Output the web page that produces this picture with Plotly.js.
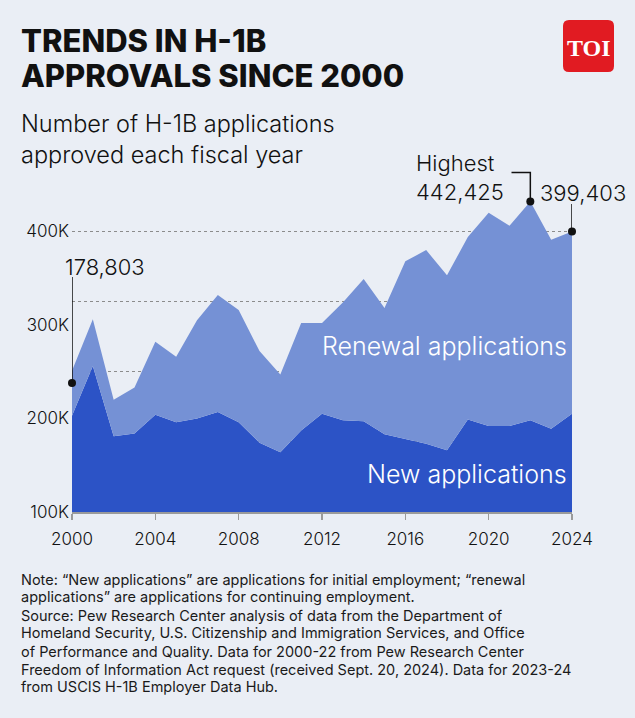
<!DOCTYPE html>
<html>
<head>
<meta charset="utf-8">
<script src="https://cdn.plot.ly/plotly-3.0.1.min.js"></script>
<style>
  html, body { margin: 0; padding: 0; background: #eaeef5; }
  #chart { width: 635px; height: 718px; }
</style>
</head>
<body>
<div id="chart"></div>
<script>
// ---- Data (thousands of approved H-1B applications) ----
const years = [2000, 2001, 2002, 2003, 2004, 2005, 2006, 2007, 2008, 2009, 2010, 2011, 2012,
               2013, 2014, 2015, 2016, 2017, 2018, 2019, 2020, 2021, 2022, 2023, 2024];
const newApps = [203, 256, 181, 184, 204, 196, 200, 207, 196, 174, 164, 187, 205,
                 198, 197, 183, 178, 173, 166, 199, 192, 192, 198, 189, 205];
const renewalApps = [48, 50, 39, 49, 78, 70, 105, 125, 120, 98, 83, 115, 97,
                     126, 152, 135, 190, 207, 187, 195, 228, 214, 234, 202, 195];

const xTickVals = [2000, 2004, 2008, 2012, 2016, 2020, 2024];
const xTickLabels = ["2000", "2004", "2008", "2012", "2016", "2020", "2024"];
const yTickVals = [100, 200, 300, 400];
const yTickLabels = ["100K", "200K", "300K", "400K"];
const gridVals = [175, 250, 325, 400];

const calloutYears = [2000, 2022, 2024];
const calloutDotY = [238, 432, 400];
const calloutLabels = ["178,803", "Highest<br>442,425", "399,403"];

const seriesNames = ["New applications", "Renewal applications"];

const titleLines = ["TRENDS IN H-1B", "APPROVALS SINCE 2000"];
const subtitleText = "Number of H-1B applications<br>approved each fiscal year";
const noteLines = [
  "Note: \u201cNew applications\u201d are applications for initial employment; \u201crenewal",
  "applications\u201d are applications for continuing employment.",
  "Source: Pew Research Center analysis of data from the Department of",
  "Homeland Security, U.S. Citizenship and Immigration Services, and Office",
  "of Performance and Quality. Data for 2000-22 from Pew Research Center",
  "Freedom of Information Act request (received Sept. 20, 2024). Data for 2023-24",
  "from USCIS H-1B Employer Data Hub."
];

// ---- Layout geometry ----
const W = 635, Hh = 718;
const M = { l: 72, r: 63, t: 150, b: 206 };
const PW = W - M.l - M.r, PH = Hh - M.t - M.b;
const yRange = [100, 487];
const px = x => (x - M.l) / PW;
const py = y => (Hh - M.b - y) / PH;
const pixToVal = y => yRange[0] + (Hh - M.b - y) / PH * (yRange[1] - yRange[0]);
const pixToYear = x => 2000 + (x - M.l) / PW * 24;

const BG = "#eaeef5";
const DARK = "#2c53c6";
const LIGHT = "#7591d5";
const FONT = "Inter, 'Open Sans', sans-serif";

const traces = [
  {
    x: years, y: newApps, name: seriesNames[0], type: "scatter", mode: "lines",
    stackgroup: "one", line: { width: 0, color: DARK }, fillcolor: DARK, hoverinfo: "skip"
  },
  {
    x: years, y: renewalApps, name: seriesNames[1], type: "scatter", mode: "lines",
    stackgroup: "one", line: { width: 0, color: LIGHT }, fillcolor: LIGHT, hoverinfo: "skip"
  },
  {
    x: calloutYears, y: calloutDotY, type: "scatter", mode: "markers", yaxis: "y2",
    marker: { color: "#111", size: 8 }, cliponaxis: false, hoverinfo: "skip"
  }
];

// connector lines from dots to labels
const labelTops = [pixToVal(277), pixToVal(172.5), pixToVal(204)];
const shapes = [
  { type: "line", xref: "x", yref: "y", x0: calloutYears[0], x1: calloutYears[0],
    y0: calloutDotY[0], y1: labelTops[0], line: { color: "#111", width: 1.5 } },
  { type: "path", xref: "x", yref: "y",
    path: `M ${calloutYears[1]} ${calloutDotY[1]} L ${calloutYears[1]} ${labelTops[1]} L ${pixToYear(511.5)} ${labelTops[1]}`,
    line: { color: "#111", width: 1.5 } },
  { type: "line", xref: "x", yref: "y", x0: calloutYears[2], x1: calloutYears[2],
    y0: calloutDotY[2], y1: labelTops[2], line: { color: "#111", width: 1.5 } },
  // TOI logo square
  { type: "path", xref: "paper", yref: "paper", xsizemode: "pixel", ysizemode: "pixel",
    xanchor: px(563), yanchor: py(72),
    path: "M 6 0 L 45 0 Q 51 0 51 6 L 51 46 Q 51 52 45 52 L 6 52 Q 0 52 0 46 L 0 6 Q 0 0 6 0 Z",
    fillcolor: "#e11b22", line: { width: 0 }, layer: "above" }
];

const ann = [];
function addText(text, x, y, opts) {
  ann.push(Object.assign({
    text: text, xref: "paper", yref: "paper", x: px(x), y: py(y),
    xanchor: "left", yanchor: "middle", showarrow: false,
    font: { family: FONT, size: 14, color: "#111" }
  }, opts || {}));
}
addText(titleLines[0], 19, 40.5, { font: { family: FONT, size: 31, weight: 800, color: "#111" } });
addText(titleLines[1], 19, 76, { font: { family: FONT, size: 31, weight: 800, color: "#111" } });
addText(subtitleText, 19, 139, { align: "left", font: { family: FONT, size: 23.5, weight: 300, color: "#111" } });
addText(calloutLabels[1], 414, 177.5, { align: "left", font: { family: FONT, size: 22, weight: 300, color: "#111" } });
addText(calloutLabels[2], 538, 193, { font: { family: FONT, size: 22, weight: 300, color: "#111" } });
addText(calloutLabels[0], 63, 266.5, { font: { family: FONT, size: 22, weight: 300, color: "#111" } });
addText(seriesNames[1], 569, 345.5, { xanchor: "right", font: { family: FONT, size: 25, weight: 300, color: "#ffffff" } });
addText(seriesNames[0], 569, 474, { xanchor: "right", font: { family: FONT, size: 25, weight: 300, color: "#ffffff" } });
noteLines.forEach((t, i) => {
  addText(t, 19, 579.5 + i * 17.9, { font: { family: FONT, size: 14.5, color: "#1a1a1a" } });
});
addText("TOI", 588.5, 47.5, { xanchor: "center",
  font: { family: "'Liberation Serif', 'DejaVu Serif', serif", size: 24, weight: 700, color: "#ffffff" } });

const layout = {
  width: W, height: Hh,
  margin: { l: M.l, r: M.r, t: M.t, b: M.b, autoexpand: false },
  paper_bgcolor: BG, plot_bgcolor: BG,
  showlegend: false, hovermode: false,
  font: { family: FONT, color: "#111" },
  xaxis: {
    range: [2000, 2024], tickmode: "array", tickvals: xTickVals, ticktext: xTickLabels,
    showgrid: false, zeroline: false, showline: true, linecolor: "#9a9a9a", linewidth: 1.5,
    ticks: "outside", ticklen: 6, tickwidth: 1.5, tickcolor: "#9a9a9a", ticklabelstandoff: 5,
    tickfont: { family: FONT, size: 17, color: "#111", weight: 300 }, fixedrange: true
  },
  yaxis: {
    range: yRange, tickmode: "array", tickvals: yTickVals, ticktext: yTickLabels,
    showgrid: false, zeroline: false, showline: false, ticks: "", ticklabelstandoff: 2,
    tickfont: { family: FONT, size: 17, color: "#111", weight: 300 }, fixedrange: true
  },
  yaxis2: {
    overlaying: "y", range: yRange, tickmode: "array", tickvals: gridVals, showticklabels: false,
    showgrid: true, gridcolor: "#8c8c8c", gridwidth: 1, griddash: "dot",
    zeroline: false, showline: false, ticks: "", fixedrange: true
  },
  shapes: shapes,
  annotations: ann
};

Plotly.newPlot("chart", traces, layout, { staticPlot: true, displayModeBar: false });
</script>
</body>
</html>
